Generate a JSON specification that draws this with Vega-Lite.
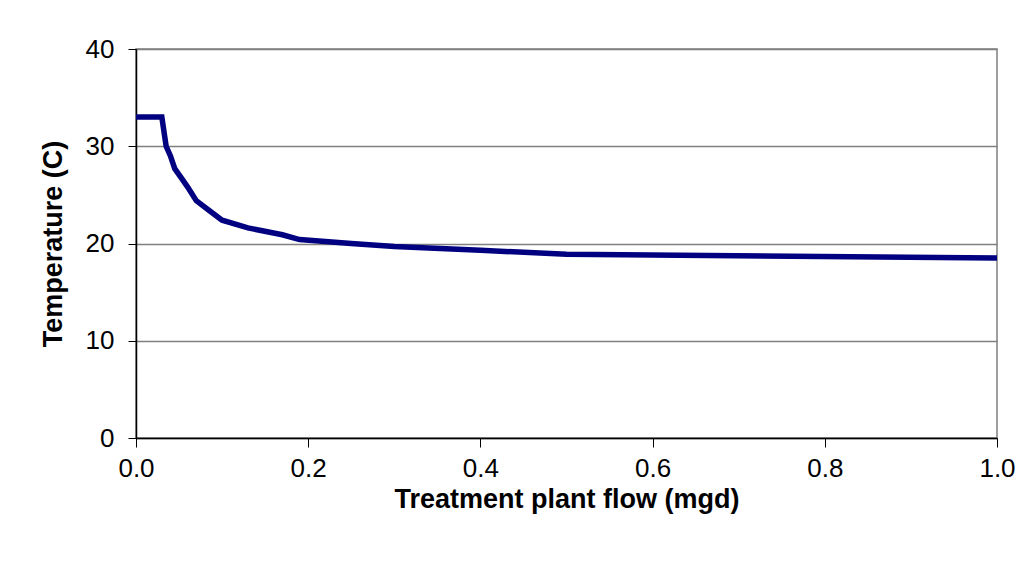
{
  "$schema": "https://vega.github.io/schema/vega-lite/v6.json",
  "width": 861,
  "height": 389,
  "autosize": "none",
  "padding": {"left": 136, "top": 49, "right": 34, "bottom": 137},
  "background": "white",
  "config": {
    "view": {"stroke": "#808080", "strokeWidth": 1.5},
    "font": "Liberation Sans"
  },
  "data": {
    "values": [
      {"flow": 0.0, "temp": 33.0},
      {"flow": 0.03, "temp": 33.0},
      {"flow": 0.035, "temp": 30.0},
      {"flow": 0.04, "temp": 29.0},
      {"flow": 0.045, "temp": 27.7},
      {"flow": 0.053, "temp": 26.7},
      {"flow": 0.06, "temp": 25.8},
      {"flow": 0.07, "temp": 24.4},
      {"flow": 0.085, "temp": 23.4},
      {"flow": 0.1, "temp": 22.4},
      {"flow": 0.13, "temp": 21.6},
      {"flow": 0.17, "temp": 20.9},
      {"flow": 0.19, "temp": 20.4},
      {"flow": 0.25, "temp": 20.0},
      {"flow": 0.3, "temp": 19.7},
      {"flow": 0.4, "temp": 19.3},
      {"flow": 0.5, "temp": 18.9},
      {"flow": 1.0, "temp": 18.5}
    ]
  },
  "mark": {"type": "line", "color": "#000080", "strokeWidth": 5.5, "clip": true},
  "encoding": {
    "x": {
      "field": "flow",
      "type": "quantitative",
      "scale": {"domain": [0, 1], "nice": false},
      "axis": {
        "title": "Treatment plant flow (mgd)",
        "values": [0, 0.2, 0.4, 0.6, 0.8, 1.0],
        "format": ".1f",
        "grid": false,
        "labelFlush": false,
        "domainColor": "black",
        "domainWidth": 1.5,
        "tickColor": "black",
        "tickSize": 9,
        "labelFontSize": 26,
        "labelColor": "black",
        "labelPadding": 8,
        "labelFont": "Liberation Sans",
        "titleFont": "Liberation Sans",
        "titleFontSize": 27,
        "titleFontWeight": "bold",
        "titleColor": "black",
        "titlePadding": 5
      }
    },
    "y": {
      "field": "temp",
      "type": "quantitative",
      "scale": {"domain": [0, 40], "nice": false},
      "axis": {
        "title": "Temperature (C)",
        "values": [0, 10, 20, 30, 40],
        "grid": true,
        "labelFlush": false,
        "gridColor": "#808080",
        "gridWidth": 1.5,
        "gridOpacity": 1,
        "domainColor": "black",
        "domainWidth": 1.5,
        "tickColor": "black",
        "tickSize": 8,
        "labelFontSize": 26,
        "labelColor": "black",
        "labelPadding": 14,
        "labelFont": "Liberation Sans",
        "titleFont": "Liberation Sans",
        "titleFontSize": 27,
        "titleFontWeight": "bold",
        "titleColor": "black",
        "titlePadding": 18
      }
    }
  }
}
